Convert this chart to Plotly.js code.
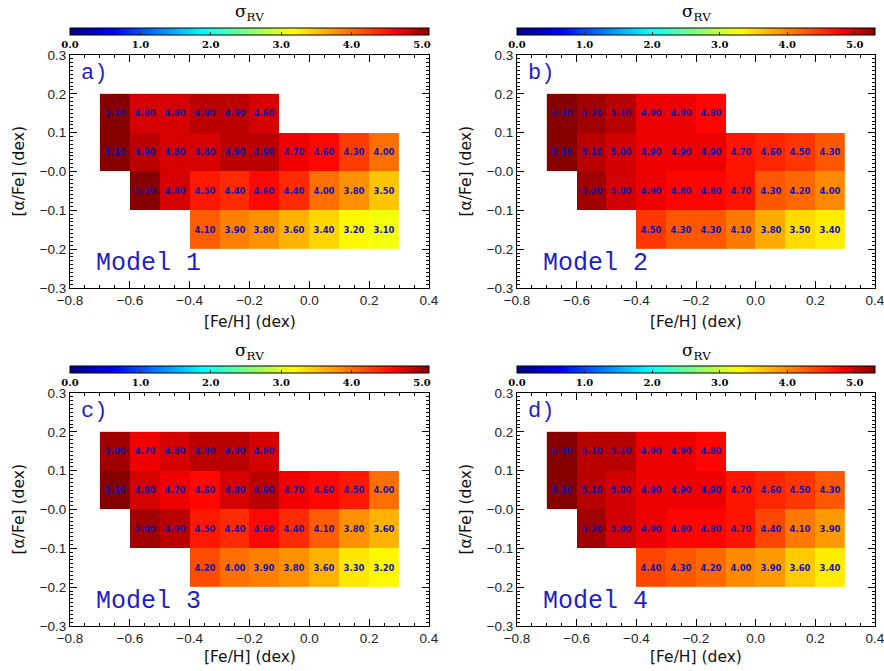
<!DOCTYPE html>
<html>
<head>
<meta charset="utf-8">
<script src="https://cdn.plot.ly/plotly-3.0.1.min.js"></script>
<style>
html,body{margin:0;padding:0;background:#fff;}
#chart{width:884px;height:671px;}
</style>
</head>
<body>
<div id="chart"></div>
<script>
// [Fe/H] bin centres (dex) and [alpha/Fe] bin centres (dex)
const feh = [-0.65, -0.55, -0.45, -0.35, -0.25, -0.15, -0.05, 0.05, 0.15, 0.25];
const alpha = [-0.15, -0.05, 0.05, 0.15];
// first [Fe/H] bin index used by each alpha row (rows listed bottom to top)
const rowStart = [3, 1, 0, 0];

// sigma_RV values per model, rows bottom (-0.15) to top (0.15)
const model1 = [
  [4.10, 3.90, 3.80, 3.60, 3.40, 3.20, 3.10],
  [5.10, 4.80, 4.50, 4.40, 4.60, 4.40, 4.00, 3.80, 3.50],
  [5.10, 4.90, 4.80, 4.80, 4.90, 4.90, 4.70, 4.60, 4.30, 4.00],
  [5.10, 4.80, 4.80, 4.90, 4.90, 4.80]
];
const model2 = [
  [4.50, 4.30, 4.30, 4.10, 3.80, 3.50, 3.40],
  [5.20, 5.00, 4.90, 4.80, 4.80, 4.70, 4.30, 4.20, 4.00],
  [5.30, 5.10, 5.00, 4.90, 4.90, 4.90, 4.70, 4.60, 4.50, 4.30],
  [5.30, 5.20, 5.10, 4.90, 4.90, 4.80]
];
const model3 = [
  [4.20, 4.00, 3.90, 3.80, 3.60, 3.30, 3.20],
  [5.00, 4.90, 4.50, 4.40, 4.60, 4.40, 4.10, 3.80, 3.60],
  [5.10, 4.80, 4.70, 4.60, 4.80, 4.90, 4.70, 4.60, 4.50, 4.00],
  [5.00, 4.70, 4.80, 4.90, 4.90, 4.80]
];
const model4 = [
  [4.40, 4.30, 4.20, 4.00, 3.90, 3.60, 3.40],
  [5.20, 5.00, 4.90, 4.80, 4.80, 4.70, 4.40, 4.10, 3.90],
  [5.30, 5.10, 5.00, 4.90, 4.90, 4.90, 4.70, 4.60, 4.50, 4.30],
  [5.30, 5.10, 5.10, 4.90, 4.90, 4.80]
];
const models = [model1, model2, model3, model4];
const panelLetters = ['a)', 'b)', 'c)', 'd)'];
const panelNames = ['Model 1', 'Model 2', 'Model 3', 'Model 4'];
const cbTickVals = [0, 1, 2, 3, 4, 5];
const cbTickText = ['0.0', '1.0', '2.0', '3.0', '4.0', '5.0'];
const yTickVals = [-0.3, -0.2, -0.1, 0, 0.1, 0.2, 0.3];
const yTickText = ['\u22120.3', '\u22120.2', '\u22120.1', '\u22120.0', '0.1', '0.2', '0.3'];
const xTickVals = [-0.8, -0.6, -0.4, -0.2, 0, 0.2, 0.4];
const xTickText = ['\u22120.8', '\u22120.6', '\u22120.4', '\u22120.2', '0.0', '0.2', '0.4'];

function toGrid(rows) {
  return rows.map((r, i) => {
    const out = feh.map(() => null);
    r.forEach((v, j) => { out[rowStart[i] + j] = v; });
    return out;
  });
}
function maxOf(rows) { return Math.max(...rows.flat()); }

const rainbow = [
  [0, 'rgb(0,0,130)'],
  [0.12, 'rgb(0,0,255)'],
  [0.37, 'rgb(0,255,255)'],
  [0.62, 'rgb(255,255,0)'],
  [0.91, 'rgb(255,0,0)'],
  [1, 'rgb(135,0,0)']
];

const W = 884, H = 671;
const xDom = [[70 / W, 429 / W], [517 / W, 875 / W]];
const yDom = [[(H - 288) / H, (H - 55) / H], [(H - 626) / H, (H - 393) / H]];

const traces = [];
const layout = {
  width: W, height: H,
  margin: {l: 0, r: 0, t: 0, b: 0},
  paper_bgcolor: '#fff', plot_bgcolor: '#fff',
  showlegend: false,
  font: {family: 'Liberation Sans', size: 13, color: '#111'},
  annotations: []
};

models.forEach((m, k) => {
  const col = k % 2, row = Math.floor(k / 2);
  const sfx = k === 0 ? '' : String(k + 1);
  const ca = 'coloraxis' + sfx;
  traces.push({
    type: 'heatmap',
    x: feh, y: alpha, z: toGrid(m),
    xaxis: 'x' + sfx, yaxis: 'y' + sfx,
    coloraxis: ca,
    texttemplate: '%{z:.2f}',
    textfont: {family: 'DejaVu Sans', size: 8.5, color: 'rgb(20,20,170)', weight: 'bold'},
    hoverongaps: false
  });
  const xd = xDom[col], yd = yDom[row];
  const axCommon = {
    showgrid: false, zeroline: false, showline: true, linecolor: '#000', linewidth: 1,
    mirror: 'allticks', ticks: 'inside', ticklen: 7, tickcolor: '#000',
    ticklabeloverflow: 'allow',
    tickfont: {family: 'Liberation Sans', size: 13.5, color: '#222'}
  };
  layout['xaxis' + sfx] = Object.assign({}, axCommon, {
    domain: xd, anchor: 'y' + sfx, range: [-0.8, 0.4],
    tickvals: xTickVals, ticktext: xTickText,
    minor: {dtick: 0.05, ticklen: 3, ticks: 'inside', tickcolor: '#000'}
  });
  layout['yaxis' + sfx] = Object.assign({}, axCommon, {
    domain: yd, anchor: 'x' + sfx, range: [-0.3, 0.3],
    tickvals: yTickVals, ticktext: yTickText,
    minor: {dtick: 0.01, ticklen: 3, ticks: 'inside', tickcolor: '#000'}
  });
  const barTop = (row === 0 ? 28 : 366);
  layout[ca] = {
    colorscale: rainbow, cmin: 0, cmax: maxOf(m),
    colorbar: {
      orientation: 'h', thickness: 7, thicknessmode: 'pixels',
      len: xd[1] - xd[0], lenmode: 'fraction',
      x: (xd[0] + xd[1]) / 2, xanchor: 'center',
      y: (H - barTop) / H, yanchor: 'top',
      xpad: 0, ypad: 0,
      outlinecolor: '#000', outlinewidth: 1,
      tickvals: cbTickVals, ticktext: cbTickText,
      ticks: 'inside', ticklen: 3, tickcolor: '#333',
      tickfont: {family: 'DejaVu Serif', size: 10, color: '#000', weight: 'bold'}
    }
  };
  layout.annotations.push({
    xref: 'paper', yref: 'paper', x: (xd[0] + xd[1]) / 2, y: (H - (barTop - 15)) / H,
    xanchor: 'center', yanchor: 'middle', showarrow: false,
    text: '\u03C3<sub>RV</sub>',
    font: {family: 'DejaVu Serif', size: 17, color: '#000'}
  });
  layout.annotations.push({
    xref: 'x' + sfx, yref: 'y' + sfx, x: -0.77, y: 0.252,
    xanchor: 'left', yanchor: 'middle', showarrow: false,
    text: panelLetters[k],
    font: {family: 'Liberation Mono', size: 22, color: 'rgb(30,30,200)'}
  });
  layout.annotations.push({
    xref: 'x' + sfx, yref: 'y' + sfx, x: -0.72, y: -0.236,
    xanchor: 'left', yanchor: 'middle', showarrow: false,
    text: panelNames[k],
    font: {family: 'Liberation Mono', size: 25, color: 'rgb(30,30,200)'}
  });
  layout.annotations.push({
    xref: 'paper', yref: 'paper', x: (xd[0] + xd[1]) / 2, y: yd[0] - (row === 0 ? 34 : 31) / H,
    xanchor: 'center', yanchor: 'middle', showarrow: false,
    text: '[Fe/H] (dex)', font: {family: 'DejaVu Sans', size: 15.5, color: '#111'}
  });
  layout.annotations.push({
    xref: 'paper', yref: 'paper', x: xd[0] - 52 / W, y: (yd[0] + yd[1]) / 2,
    xanchor: 'center', yanchor: 'middle', showarrow: false, textangle: -90,
    text: '[\u03B1/Fe] (dex)', font: {family: 'DejaVu Sans', size: 15.5, color: '#111'}
  });
});

Plotly.newPlot('chart', traces, layout, {displayModeBar: false, staticPlot: true});
</script>
</body>
</html>
